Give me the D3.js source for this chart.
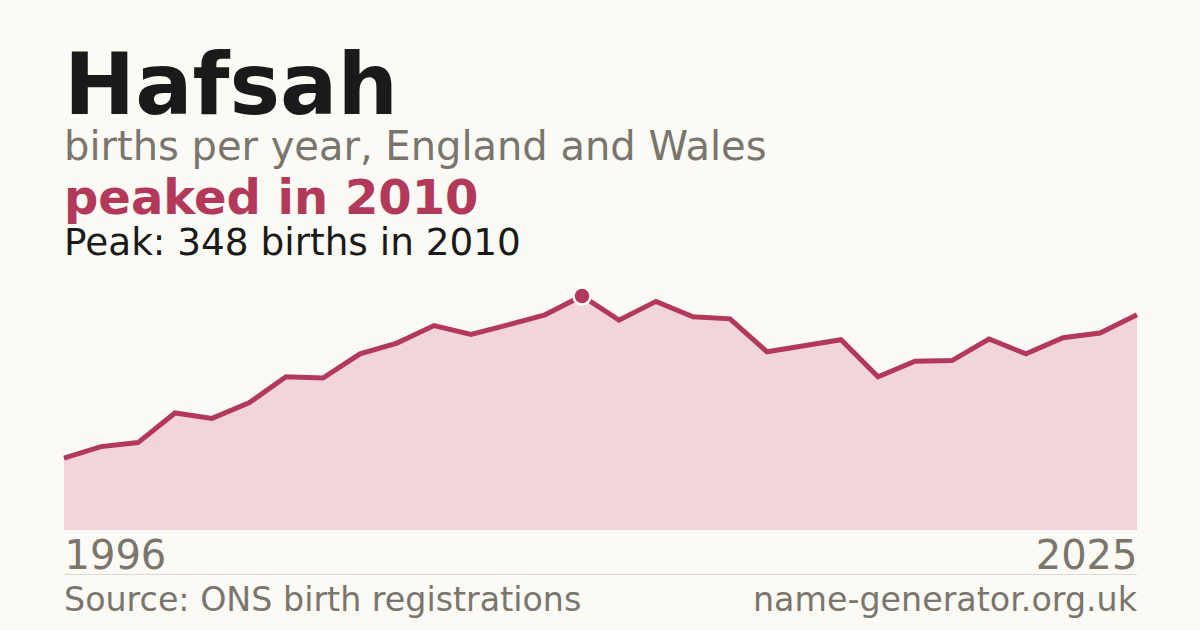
<!DOCTYPE html>
<html>
<head>
<meta charset="utf-8">
<script src="https://cdn.jsdelivr.net/npm/d3@7"></script>
<style>
  html, body { margin: 0; padding: 0; background: #fbfaf5; }
  svg { display: block; font-family: "DejaVu Sans", sans-serif; }
</style>
</head>
<body>
<svg width="1200" height="630"></svg>
<script>
// Data
const years = d3.range(1996, 2026);
const births = [107, 124, 130, 174, 166, 189, 228, 226, 262, 278,
                304, 291, 305, 320, 348, 312, 340, 317, 314, 265,
                274, 283, 228, 251, 252, 284, 262, 286, 293, 320];
const tickYears = [1996, 2025];

const title = 'Hafsah';
const subtitle = 'births per year, England and Wales';
const headline = 'peaked in 2010';
const source = 'Source: ONS birth registrations';
const site = 'name-generator.org.uk';

const red = '#b3395a';
const grey = '#7a756d';

const svg = d3.select('svg');
const data = years.map((y, i) => ({ year: y, value: births[i] }));
const peak = data.reduce((a, b) => (b.value > a.value ? b : a));

// Header text
svg.append('text').attr('x', 64).attr('y', 114)
    .attr('font-size', 85).attr('font-weight', 'bold').attr('fill', '#1a1a1a')
    .text(title);
svg.append('text').attr('x', 64).attr('y', 160)
    .attr('font-size', 40).attr('fill', grey)
    .text(subtitle);
svg.append('text').attr('x', 64).attr('y', 214)
    .attr('font-size', 48).attr('font-weight', 'bold').attr('fill', red)
    .text(headline);
svg.append('text').attr('x', 64).attr('y', 255)
    .attr('font-size', 37.4).attr('fill', '#1a1a1a')
    .text(`Peak: ${peak.value} births in ${peak.year}`);

// Scales
const x = d3.scaleLinear().domain([1996, 2025]).range([64, 1137]);
const y = d3.scaleLinear().domain([0, peak.value]).range([530, 296]);

const area = d3.area().x(d => x(d.year)).y0(y(0)).y1(d => y(d.value));
const line = d3.line().x(d => x(d.year)).y(d => y(d.value));

svg.append('path').datum(data).attr('fill', '#f2d5db').attr('d', area);
svg.append('path').datum(data)
    .attr('fill', 'none').attr('stroke', red).attr('stroke-width', 5)
    .attr('stroke-linejoin', 'miter').attr('d', line);

// Peak marker
svg.append('circle')
    .attr('cx', x(peak.year)).attr('cy', y(peak.value)).attr('r', 8.5)
    .attr('fill', red).attr('stroke', '#ffffff').attr('stroke-width', 2.5);

// Year labels at both ends
const xAxis = svg.append('g').attr('transform', 'translate(0,530)')
    .call(d3.axisBottom(x).tickValues(tickYears).tickFormat(d3.format('d')).tickSize(0).tickPadding(0));
xAxis.select('.domain').remove();
xAxis.selectAll('text')
    .attr('font-family', '"DejaVu Sans", sans-serif')
    .attr('font-size', 40).attr('fill', grey)
    .attr('dy', null).attr('y', 39)
    .attr('text-anchor', (d, i) => (i === 0 ? 'start' : 'end'));

// Divider and footer
svg.append('line').attr('x1', 64).attr('x2', 1137).attr('y1', 574.5).attr('y2', 574.5)
    .attr('stroke', '#dcd9d2').attr('stroke-width', 1);
svg.append('text').attr('x', 64).attr('y', 611)
    .attr('font-size', 33.3).attr('fill', grey).text(source);
svg.append('text').attr('x', 1137).attr('y', 611).attr('text-anchor', 'end')
    .attr('font-size', 33.3).attr('fill', grey).text(site);
</script>
</body>
</html>
